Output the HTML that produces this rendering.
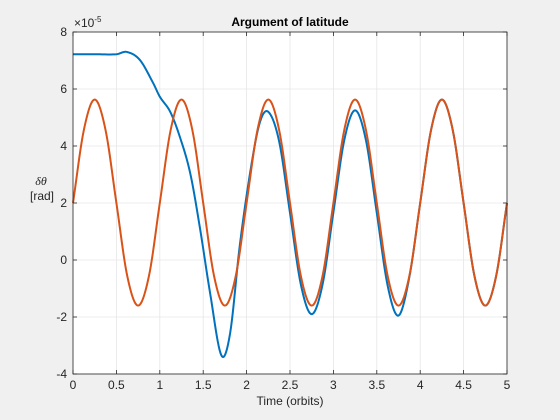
<!DOCTYPE html>
<html><head><meta charset="utf-8"><style>
body{margin:0;background:#f0f0f0;}
svg{display:block;font-family:"Liberation Sans",sans-serif;}
</style></head><body>
<svg id="chart" width="560" height="420">
<rect x="0" y="0" width="560" height="420" fill="#f0f0f0"/>
<rect x="73" y="32" width="434" height="342" fill="#fff"/>
<g id="grid"></g>
<g id="series"></g>
<rect x="73" y="32" width="434" height="342" fill="none" stroke="#262626" stroke-width="0.8"/>
<g id="ticks"></g>
<text x="290" y="26" text-anchor="middle" font-size="12" font-weight="bold" fill="#000">Argument of latitude</text>
<text x="290" y="405" text-anchor="middle" font-size="12" fill="#262626">Time (orbits)</text>
<text x="41" y="185" text-anchor="middle" font-size="12" font-style="italic" font-family="Liberation Serif,serif" fill="#262626">δθ</text>
<text x="42" y="200" text-anchor="middle" font-size="12" fill="#262626">[rad]</text>
<text x="74" y="27" font-size="12" fill="#262626">×10<tspan font-size="8" dy="-5">-5</tspan></text>
</svg>
<script>
const xTicks=[0,0.5,1,1.5,2,2.5,3,3.5,4,4.5,5];
const xTickLabels=["0","0.5","1","1.5","2","2.5","3","3.5","4","4.5","5"];
const yTicks=[-4,-2,0,2,4,6,8];
const yTickLabels=["-4","-2","0","2","4","6","8"];
const blueT=[0,0.25,0.5,0.62,0.77,0.925,1.0,1.12,1.23,1.35,1.46,1.58,1.71,1.81,1.92,2.04,2.15,2.25,2.375,2.5,2.625,2.75,2.875,3.0,3.125,3.25,3.375,3.5,3.625,3.75,3.875,4.0,4.125,4.25,4.375,4.5,4.625,4.75,4.875,5.0];
const blueV=[7.22,7.22,7.22,7.3,7.02,6.2,5.73,5.2,4.33,3.05,1.17,-1.17,-3.35,-2.57,0.47,3.05,4.8,5.2,4.16,1.65,-0.86,-1.9,-0.86,1.67,4.2,5.25,4.2,1.65,-0.9,-1.95,-0.6,2.0,4.56,5.63,4.56,2.0,-0.56,-1.6,-0.56,2.0];
const orangeT=[0,0.125,0.25,0.375,0.5,0.625,0.75,0.875,1,1.125,1.25,1.375,1.5,1.625,1.75,1.875,2,2.125,2.25,2.375,2.5,2.625,2.75,2.875,3,3.125,3.25,3.375,3.5,3.625,3.75,3.875,4,4.125,4.25,4.375,4.5,4.625,4.75,4.875,5];
const orangeV=[2,4.56,5.63,4.56,2,-0.56,-1.6,-0.56,2,4.56,5.63,4.56,2,-0.56,-1.6,-0.56,2,4.56,5.63,4.56,2,-0.56,-1.6,-0.56,2,4.56,5.63,4.56,2,-0.56,-1.6,-0.56,2,4.56,5.63,4.56,2,-0.56,-1.6,-0.56,2];

const NS="http://www.w3.org/2000/svg";
const X0=73,X1=507,Y0=374,Y1=32;
function sx(t){return X0+(t-0)/(5-0)*(X1-X0);}
function sy(v){return Y0-(v-(-4))/(8-(-4))*(Y0-Y1);}
function mk(tag,attrs,parent){const e=document.createElementNS(NS,tag);for(const k in attrs)e.setAttribute(k,attrs[k]);parent.appendChild(e);return e;}
const grid=document.getElementById('grid'),ticks=document.getElementById('ticks'),series=document.getElementById('series');
xTicks.forEach((t,i)=>{
  const g=mk('line',{x1:sx(t),x2:sx(t),y1:Y1,y2:Y0,stroke:'#e6e6e6','stroke-width':0.8},grid);
  
  
  const a=mk('line',{x1:sx(t),x2:sx(t),y1:Y0,y2:Y0-4,stroke:'#262626','stroke-width':0.8},ticks);
  
  
  const b=mk('line',{x1:sx(t),x2:sx(t),y1:Y1,y2:Y1+4,stroke:'#262626','stroke-width':0.8},ticks);
  
  
  const l=mk('text',{x:sx(t),y:Y0+15,'text-anchor':'middle','font-size':12,fill:'#262626'},ticks);
  l.textContent=xTickLabels[i];
  
  
});
yTicks.forEach((v,i)=>{
  const g=mk('line',{x1:X0,x2:X1,y1:sy(v),y2:sy(v),stroke:'#e6e6e6','stroke-width':0.8},grid);
  
  
  const a=mk('line',{x1:X0,x2:X0+4,y1:sy(v),y2:sy(v),stroke:'#262626','stroke-width':0.8},ticks);
  
  
  const b=mk('line',{x1:X1,x2:X1-4,y1:sy(v),y2:sy(v),stroke:'#262626','stroke-width':0.8},ticks);
  
  
  const l=mk('text',{x:X0-6,y:sy(v)+4,'text-anchor':'end','font-size':12,fill:'#262626'},ticks);
  l.textContent=yTickLabels[i];
  
  
});
function pathFor(T,V){
  const n=T.length,m=[];
  for(let i=0;i<n;i++){
    if(i===0)m.push((V[1]-V[0])/(T[1]-T[0]));
    else if(i===n-1)m.push((V[n-1]-V[n-2])/(T[n-1]-T[n-2]));
    else m.push((V[i+1]-V[i-1])/(T[i+1]-T[i-1]));
  }
  let d='M'+sx(T[0]).toFixed(2)+','+sy(V[0]).toFixed(2);
  for(let i=0;i<n-1;i++){
    const h=T[i+1]-T[i];
    for(let k=1;k<=12;k++){
      const s=k/12,s2=s*s,s3=s2*s;
      const v=(2*s3-3*s2+1)*V[i]+(s3-2*s2+s)*h*m[i]+(-2*s3+3*s2)*V[i+1]+(s3-s2)*h*m[i+1];
      d+='L'+sx(T[i]+s*h).toFixed(2)+','+sy(v).toFixed(2);
    }
  }
  return d;
}
const pb=mk('path',{d:pathFor(blueT,blueV),fill:'none',stroke:'#0072bd','stroke-width':2,'stroke-linejoin':'round'},series);


const po=mk('path',{d:pathFor(orangeT,orangeV),fill:'none',stroke:'#d95319','stroke-width':2,'stroke-linejoin':'round'},series);


</script>
</body></html>
